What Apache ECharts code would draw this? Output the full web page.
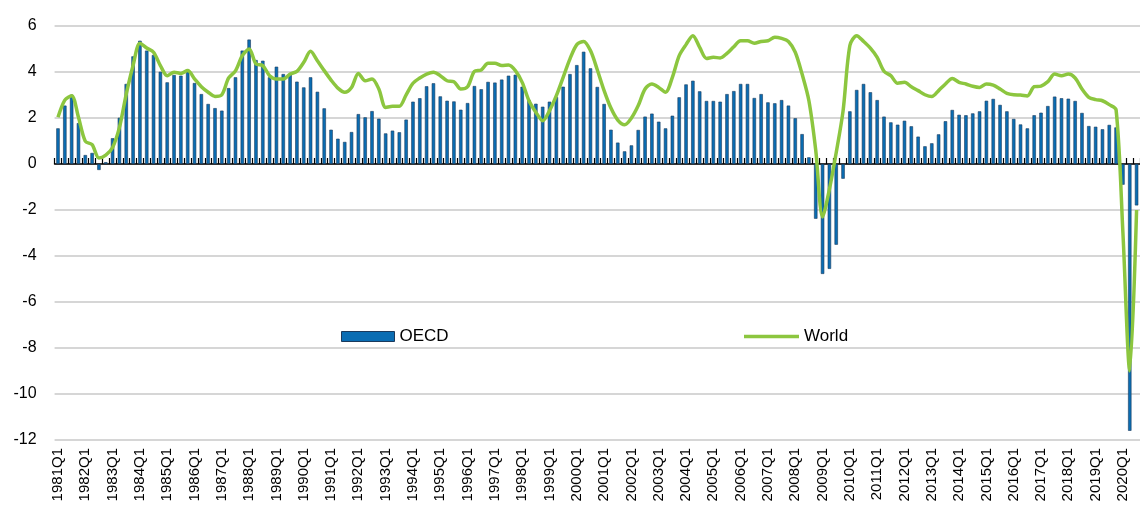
<!DOCTYPE html>
<html>
<head>
    <meta charset="utf-8">
    <title>OECD and World GDP growth</title>
    <script src="https://cdn.jsdelivr.net/npm/echarts/dist/echarts.min.js"></script>
</head>
<body style="margin: 0; background: #fff">
<div id="chart1" style="width:1140px;height:507px"></div>

<script type="text/javascript">
    // quarters 1981Q1 .. 2020Q3
    var firstYear = 1981;
    var lastYear = 2020;
    var lastQuarter = 3;

    // OECD, y/y % (bars)
    var oecd = [
        1.55, 2.54, 3.01, 1.78,   // 1981
        0.39, 0.48, -0.26, 0.08,  // 1982
        1.12, 2.01, 3.48, 4.68,   // 1983
        5.36, 4.93, 4.74, 4.01,   // 1984
        3.55, 3.87, 3.84, 4.01,   // 1985
        3.52, 3.04, 2.61, 2.43,   // 1986
        2.32, 3.30, 3.77, 4.93,   // 1987
        5.41, 4.52, 4.49, 3.77,   // 1988
        4.23, 3.91, 3.91, 3.58,   // 1989
        3.33, 3.77, 3.14, 2.42,   // 1990
        1.49, 1.10, 0.96, 1.39,   // 1991
        2.17, 2.03, 2.30, 1.97,   // 1992
        1.33, 1.45, 1.38, 1.93,   // 1993
        2.71, 2.86, 3.38, 3.51,   // 1994
        2.94, 2.75, 2.72, 2.36,   // 1995
        2.65, 3.39, 3.25, 3.57,   // 1996
        3.54, 3.67, 3.84, 3.88,   // 1997
        3.36, 2.78, 2.62, 2.49,   // 1998
        2.71, 2.91, 3.36, 3.91,   // 1999
        4.30, 4.88, 4.16, 3.35,   // 2000
        2.61, 1.49, 0.93, 0.55,   // 2001
        0.81, 1.48, 2.06, 2.19,   // 2002
        1.84, 1.55, 2.10, 2.90,   // 2003
        3.46, 3.62, 3.16, 2.74,   // 2004
        2.74, 2.71, 3.04, 3.17,   // 2005
        3.48, 3.48, 2.87, 3.04,   // 2006
        2.68, 2.64, 2.78, 2.54,   // 2007
        1.99, 1.30, 0.29, -2.38,  // 2008
        -4.78, -4.56, -3.51, -0.64, // 2009
        2.29, 3.22, 3.48, 3.12,   // 2010
        2.78, 2.06, 1.81, 1.71,   // 2011
        1.88, 1.64, 1.19, 0.77,   // 2012
        0.90, 1.29, 1.86, 2.35,   // 2013
        2.14, 2.12, 2.20, 2.29,   // 2014
        2.75, 2.83, 2.57, 2.29,   // 2015
        1.96, 1.72, 1.55, 2.12,   // 2016
        2.23, 2.52, 2.93, 2.86,   // 2017
        2.84, 2.74, 2.22, 1.65,   // 2018
        1.62, 1.51, 1.70, 1.59,   // 2019
        -0.90, -11.60, -1.80      // 2020
    ];

    // World, y/y % (line)
    var world = [
        2.03, 2.78, 2.97, 2.03,
        0.99, 0.84, 0.26, 0.39,
        0.72, 1.59, 3.04, 4.28,
        5.25, 5.04, 4.86, 4.28,
        3.84, 3.99, 3.94, 4.06,
        3.70, 3.36, 3.12, 2.94,
        3.01, 3.74, 4.05, 4.71,
        5.00, 4.35, 4.28, 3.84,
        3.70, 3.70, 3.91, 4.03,
        4.42, 4.90, 4.49, 4.06,
        3.65, 3.30, 3.12, 3.33,
        3.94, 3.62, 3.70, 3.26,
        2.46, 2.51, 2.51, 3.01,
        3.51, 3.74, 3.91, 3.99,
        3.84, 3.62, 3.58, 3.26,
        3.36, 4.03, 4.09, 4.38,
        4.38, 4.28, 4.30, 4.06,
        3.55, 2.75, 2.25, 1.88,
        2.32, 2.97, 3.77, 4.57,
        5.19, 5.33, 4.93, 4.10,
        3.19, 2.43, 1.91, 1.71,
        2.00, 2.54, 3.26, 3.48,
        3.33, 3.12, 3.77, 4.71,
        5.19, 5.58, 5.07, 4.59,
        4.64, 4.61, 4.81, 5.10,
        5.36, 5.36, 5.25, 5.33,
        5.36, 5.51, 5.46, 5.33,
        4.86, 3.91, 2.75, 0.60,
        -2.30, -1.10, 0.50, 2.30,
        5.15, 5.58, 5.33, 5.04,
        4.64, 4.03, 3.84, 3.51,
        3.55, 3.36, 3.19, 3.01,
        2.93, 3.19, 3.48, 3.72,
        3.55, 3.48, 3.38, 3.33,
        3.48, 3.43, 3.26, 3.07,
        3.01, 3.00, 2.96, 3.36,
        3.39, 3.58, 3.91, 3.84,
        3.91, 3.74, 3.26, 2.90,
        2.80, 2.75, 2.58, 2.35,
        -3.00, -9.00, -2.00
    ];

    var quarters = [];
    for (var y = firstYear; y <= lastYear; y++) {
        for (var q = 1; q <= 4; q++) {
            if (y === lastYear && q > lastQuarter) break;
            quarters.push(y + 'Q' + q);
        }
    }

    // one category = 6.847px, first bar centred at x=58
    var step = 6.847;
    var plotLeft = 58 - step / 2;
    var plotWidth = quarters.length * step;

    var font = 'Liberation Sans, Arial, sans-serif';
    var blue = '#0a6db3';
    var green = '#8cc63f';

    var myChart1 = echarts.init(document.getElementById('chart1'));
    myChart1.setOption({
        animation: false,
        grid: {
            left: plotLeft,
            top: 26,
            width: plotWidth,
            height: 414
        },
        legend: [
            {
                data: [{name: 'OECD', icon: 'rect'}],
                left: 336,
                top: 323,
                itemWidth: 53,
                itemHeight: 10,
                itemGap: 4,
                itemStyle: {borderColor: '#1b3a5c', borderWidth: 1},
                textStyle: {fontFamily: font, fontSize: 17, color: '#000'}
            },
            {
                data: [{name: 'World', icon: 'rect'}],
                left: 739,
                top: 323,
                itemWidth: 55,
                itemHeight: 3.5,
                itemGap: 4,
                textStyle: {fontFamily: font, fontSize: 17, color: '#000'}
            }
        ],
        xAxis: [
            {
                // zero line with tick marks
                type: 'category',
                data: quarters,
                axisLine: {onZero: true, lineStyle: {color: '#000', width: 1.5}},
                axisTick: {show: true, inside: true, length: 6, interval: 0, lineStyle: {color: '#000', width: 1.2}},
                axisLabel: {show: false},
                splitLine: {show: false}
            },
            {
                // labels at the bottom
                type: 'category',
                data: quarters,
                position: 'bottom',
                axisLine: {show: false, onZero: false},
                axisTick: {show: false},
                axisLabel: {
                    interval: 3,
                    rotate: 90,
                    margin: 8,
                    color: '#000',
                    fontFamily: font,
                    fontSize: 15
                }
            }
        ],
        yAxis: {
            type: 'value',
            min: -12,
            max: 6,
            interval: 2,
            axisLine: {show: false},
            axisTick: {show: false},
            axisLabel: {color: '#000', fontFamily: font, fontSize: 16, margin: 18},
            splitLine: {lineStyle: {color: '#c8c8c8', width: 1.5}}
        },
        series: [
            {
                name: 'OECD',
                type: 'bar',
                xAxisIndex: 0,
                data: oecd,
                barWidth: '50%',
                itemStyle: {color: blue, borderColor: '#1b3a5c', borderWidth: 0.6}
            },
            {
                name: 'World',
                type: 'line',
                xAxisIndex: 0,
                data: world,
                smooth: 0.3,
                symbol: 'none',
                lineStyle: {color: green, width: 3.5},
                itemStyle: {color: green}
            }
        ]
    });
</script>
</body>
</html>
